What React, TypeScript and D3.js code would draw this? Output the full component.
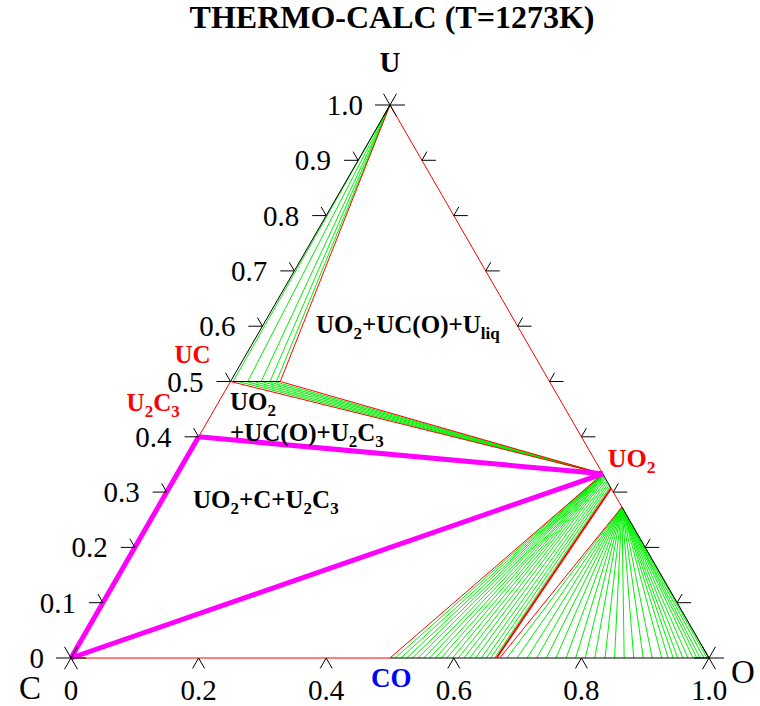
"use client"

import * as d3 from "d3";
import { useEffect, useRef } from "react";

type Comp = [number, number]; // [x(O), x(U)], x(C) = 1 - x(O) - x(U)

const width = 760;
const height = 706;
const FONT = "'Liberation Serif', 'Times New Roman', Times, 'DejaVu Serif', serif";

// corners of the triangle
const cornerC: Comp = [0, 0];
const cornerO: Comp = [1, 0];
const cornerU: Comp = [0, 1];

// phases
const ucPoint: Comp = [0, 0.5];
const ucoPoint: Comp = [0.078, 0.5];
const u2c3Point: Comp = [0, 0.4];
const uo2Point: Comp = [0.667, 0.333];
const uo2xPoint: Comp = [0.693, 0.307];
const u3o8Point: Comp = [0.727, 0.273];
const coPoint: Comp = [0.5, 0];
const co2Point: Comp = [0.667, 0];
const co2xPoint: Comp = [0.672, 0];

// axis ticks
const sideTicks = [0.1, 0.2, 0.3, 0.4, 0.5, 0.6, 0.7, 0.8, 0.9];
const leftTickValues = [0, 0.1, 0.2, 0.3, 0.4, 0.5, 0.6, 0.7, 0.8, 0.9, 1.0];
const leftTickLabels = ["0", "0.1", "0.2", "0.3", "0.4", "0.5", "0.6", "0.7", "0.8", "0.9", "1.0"];
const bottomTicks = [0.2, 0.4, 0.6, 0.8];
const bottomTickValues = [0, 0.2, 0.4, 0.6, 0.8, 1.0];
const bottomTickLabels = ["0", "0.2", "0.4", "0.6", "0.8", "1.0"];

// tie lines
// x(O) of the UC(O) end (x(U) = 0.5), other end at liquid U
const ucoToLiquid = [0.004, 0.027, 0.048, 0.062, 0.072];
// x(O) of the UC(O) end, other end at UO2
const ucoToUo2 = [0.012, 0.024, 0.036, 0.048, 0.058, 0.068];
// CO/CO2 gas (x(O) on C-O side) to UO2+x (x(U) on U-O side)
const fan1Gas = [
  0.508, 0.517, 0.526, 0.535, 0.544, 0.553, 0.562, 0.571, 0.58, 0.589, 0.598,
  0.607, 0.616, 0.625, 0.634, 0.643, 0.651, 0.658, 0.664,
];
const fan1Oxide = [
  0.333, 0.333, 0.333, 0.333, 0.333, 0.333, 0.333, 0.332, 0.332, 0.331, 0.33,
  0.329, 0.327, 0.325, 0.322, 0.319, 0.316, 0.313, 0.31,
];
// CO2/O2 gas to U3O8
const fan2Gas = [
  0.683, 0.699, 0.715, 0.73, 0.745, 0.76, 0.776, 0.791, 0.806, 0.821, 0.837, 0.852, 0.867,
  0.882, 0.897, 0.911, 0.926, 0.936, 0.944, 0.951, 0.959, 0.967, 0.975, 0.981, 0.986, 0.992, 0.997, 1.0,
];

const RED = "#ff0000";
const GREEN = "#00f000";
const MAGENTA = "#ff00ff";
const BLUE = "#0000ff";
const BLACK = "#000000";

type Part = [string, boolean]; // text, is subscript

export default function App() {
  const svgRef = useRef<SVGSVGElement>(null);

  useEffect(() => {
    const svgEl = d3.select(svgRef.current);
    svgEl.selectAll("*").remove();

    // ternary -> pixel
    const xs = d3.scaleLinear([0, 1], [71, 709]);
    const ys = d3.scaleLinear([0, 1], [658, 105]);
    const P = (c: Comp): [number, number] => [xs(c[0] + c[1] / 2), ys(c[1])];
    const line = d3.line();

    const seg = (a: Comp, b: Comp, color: string, w = 1) =>
      svgEl.append("path")
        .attr("d", line([P(a), P(b)]))
        .attr("stroke", color)
        .attr("stroke-width", w)
        .attr("fill", "none");

    const stroke = (pts: [number, number][]) =>
      svgEl.append("path")
        .attr("d", line(pts))
        .attr("stroke", BLACK)
        .attr("stroke-width", 1)
        .attr("fill", "none");

    const text = (x: number, y: number, s: string, size: number, anchor = "start", bold = false) =>
      svgEl.append("text")
        .attr("x", x)
        .attr("y", y)
        .style("font-family", FONT)
        .attr("font-size", size)
        .attr("font-weight", bold ? "bold" : "normal")
        .attr("text-anchor", anchor)
        .attr("fill", BLACK)
        .text(s);

    const rich = (x: number, y: number, parts: Part[], size: number, color: string, anchor = "start") => {
      const t = svgEl.append("text")
        .attr("x", x)
        .attr("y", y)
        .style("font-family", FONT)
        .attr("font-size", size)
        .attr("font-weight", "bold")
        .attr("fill", color)
        .attr("text-anchor", anchor);
      parts.forEach(([s, sub], i) => {
        const ts = t.append("tspan").text(s);
        const prevSub = i > 0 && parts[i - 1][1];
        if (sub) ts.attr("font-size", size * 0.68).attr("dy", size * 0.24);
        else if (prevSub) ts.attr("dy", -size * 0.24);
      });
    };

    // tie lines
    ucoToLiquid.forEach(o => seg([o, 0.5], cornerU, GREEN));
    ucoToUo2.forEach(o => seg([o, 0.5], uo2Point, GREEN));
    fan1Gas.forEach((o, i) => seg([o, 0], [1 - fan1Oxide[i], fan1Oxide[i]], GREEN));
    fan2Gas.forEach(o => seg([o, 0], u3o8Point, GREEN));

    // triangle sides
    seg(cornerC, coPoint, RED);
    seg(coPoint, cornerO, BLACK);
    seg(u2c3Point, ucPoint, RED);
    seg(ucPoint, cornerU, BLACK);
    seg(cornerU, uo2Point, RED);
    seg(uo2Point, uo2xPoint, BLACK);
    seg(uo2xPoint, u3o8Point, RED);
    seg(u3o8Point, cornerO, BLACK);
    seg(ucPoint, ucoPoint, BLACK);

    // phase boundaries
    seg(ucoPoint, cornerU, RED);
    seg(ucoPoint, uo2Point, RED);
    seg(ucPoint, uo2Point, RED);
    seg(uo2Point, coPoint, RED);
    seg(uo2xPoint, co2Point, RED, 2);
    seg(u3o8Point, co2xPoint, RED);

    // three-phase triangle UO2 + C + U2C3
    seg(cornerC, u2c3Point, MAGENTA, 5);
    seg(u2c3Point, uo2Point, MAGENTA, 5);
    seg(cornerC, uo2Point, MAGENTA, 5);

    // ticks
    const c60 = 0.5;
    const s60 = Math.sqrt(3) / 2;
    sideTicks.forEach(u => {
      const [x, y] = P([0, u]);
      stroke([[x - 14, y], [x, y], [x - 10 * c60, y - 10 * s60]]);
      const [rx, ry] = P([1 - u, u]);
      stroke([[rx + 14, ry], [rx, ry], [rx + 10 * c60, ry - 10 * s60]]);
    });
    bottomTicks.forEach(o => {
      const [x, y] = P([o, 0]);
      stroke([[x - 12 * c60, y + 12 * s60], [x, y], [x + 12 * c60, y + 12 * s60]]);
    });
    [cornerC, cornerO, cornerU].forEach(c => {
      const [x, y] = P(c);
      stroke([[x - 15, y], [x + 15, y]]);
      stroke([[x - 13 * c60, y - 13 * s60], [x + 13 * c60, y + 13 * s60]]);
      stroke([[x + 13 * c60, y - 13 * s60], [x - 13 * c60, y + 13 * s60]]);
    });

    // tick labels
    leftTickValues.forEach((u, i) => {
      const [x, y] = P([0, u]);
      text(x - 27, y + 10, leftTickLabels[i], 29, "end");
    });
    bottomTickValues.forEach((o, i) => {
      const [x, y] = P([o, 0]);
      text(x, y + 42, bottomTickLabels[i], 29, "middle");
    });

    // corner names
    const [cx, cy] = P(cornerC);
    text(cx - 41, cy + 41, "C", 33, "middle");
    const [ox, oy] = P(cornerO);
    text(ox + 34, oy + 25, "O", 33, "middle");
    const [ux, uy] = P(cornerU);
    text(ux, uy - 33, "U", 29, "middle", true);

    // title
    text(392, 28, "THERMO-CALC (T=1273K)", 32, "middle", true);

    // phase names
    const [ucx, ucy] = P(ucPoint);
    rich(ucx - 38, ucy - 19, [["UC", false]], 25, RED, "middle");
    const [u2x, u2y] = P(u2c3Point);
    rich(u2x - 72, u2y - 26, [["U", false], ["2", true], ["C", false], ["3", true]], 25, RED);
    const [uo2x, uo2y] = P(uo2Point);
    rich(uo2x + 5, uo2y - 7, [["UO", false], ["2", true]], 26, RED);
    const [cox, coy] = P(coPoint);
    rich(cox - 19, coy + 29, [["CO", false]], 27, BLUE);

    // region labels
    rich(316, 333, [["UO", false], ["2", true], ["+UC(O)+U", false], ["liq", true]], 25, BLACK);
    rich(230, 410, [["UO", false], ["2", true]], 25, BLACK);
    rich(230, 441, [["+UC(O)+U", false], ["2", true], ["C", false], ["3", true]], 25, BLACK);
    rich(193, 508, [["UO", false], ["2", true], ["+C+U", false], ["2", true], ["C", false], ["3", true]], 25, BLACK);
  }, []);

  return (
    <div style={{ position: "absolute", left: 0, top: 0 }}>
      <svg
        ref={svgRef}
        width={width}
        height={height}
        style={{ display: "block", background: "#fff" }}
        xmlns="http://www.w3.org/2000/svg"
      >
      </svg>
    </div>
  );
}
